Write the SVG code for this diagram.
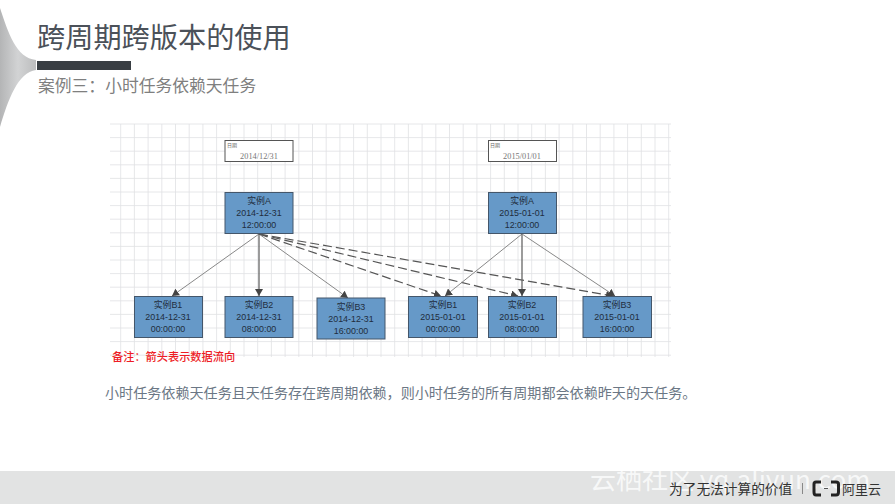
<svg xmlns="http://www.w3.org/2000/svg" width="895" height="504" viewBox="0 0 895 504">
<style>
text{font-family:"Liberation Sans","Noto Sans CJK SC",sans-serif}
.cjk{font-family:"Noto Sans CJK SC","Liberation Sans",sans-serif}
.n{fill:#6699c8;stroke:#44566a;stroke-width:1}
.d{fill:#fff;stroke:#555;stroke-width:1}
.t{font-size:8.900px;fill:#1f2d3d;text-anchor:middle}
.dt{font-family:"Liberation Serif","Noto Sans CJK SC",serif;font-size:8.300px;fill:#777;text-anchor:middle}
.dl{font-size:5px;fill:#666}
.s{stroke:#888;stroke-width:1;fill:none;marker-end:url(#a)}
.v{stroke:#666;stroke-width:1.3;fill:none;marker-end:url(#a)}
.k{stroke:#555;stroke-width:1.2;stroke-dasharray:9 4;fill:none;marker-end:url(#a)}
</style>
<defs>
<marker id="a" markerUnits="userSpaceOnUse" markerWidth="8" markerHeight="8" refX="7" refY="4" orient="auto"><path d="M0 0L7 4L0 8Z" fill="#444"/></marker>
<linearGradient id="g" x1="0" x2="1" y1="0" y2="0"><stop offset="0" stop-color="#b4b5b6"/><stop offset="0.5" stop-color="#d2d3d4"/><stop offset="1" stop-color="#bcbdbe"/></linearGradient>
</defs>
<rect width="895" height="504" fill="#fff"/>
<g id="decor">
<path d="M0 8C8 32 16 58 36 60V70C18 72 8 100 0 127Z" fill="url(#g)"/>
</g>
<g id="header">
<text class="cjk" x="37" y="48" font-size="28.200" fill="#4b5159">跨周期跨版本的使用</text>
<rect x="37" y="61" width="94" height="9" fill="#393e43"/>
<text class="cjk" x="38" y="92" font-size="16.800" fill="#7f7f7f">案例三：小时任务依赖天任务</text>
</g>
<g id="grid">
<path d="M120.700 124V357M134.400 124V357M148.100 124V357M161.800 124V357M175.500 124V357M189.200 124V357M202.900 124V357M216.600 124V357M230.300 124V357M244 124V357M257.700 124V357M271.400 124V357M285.100 124V357M298.800 124V357M312.500 124V357M326.200 124V357M339.900 124V357M353.600 124V357M367.300 124V357M381 124V357M394.700 124V357M408.400 124V357M422.100 124V357M435.800 124V357M449.500 124V357M463.200 124V357M476.900 124V357M490.600 124V357M504.300 124V357M518 124V357M531.700 124V357M545.400 124V357M559.100 124V357M572.800 124V357M586.500 124V357M600.200 124V357M613.900 124V357M627.600 124V357M641.300 124V357M655 124V357M668.700 124V357M110 124H671M110 137.600H671M110 151.200H671M110 164.800H671M110 178.400H671M110 192H671M110 205.600H671M110 219.200H671M110 232.800H671M110 246.400H671M110 260H671M110 273.600H671M110 287.200H671M110 300.800H671M110 314.400H671M110 328H671M110 341.600H671M110 355.200H671" stroke="#dfe1e3" stroke-width="0.8" fill="none"/>
</g>
<g id="connectors">
<path class="s" d="M259 234L172 296"/>
<path class="v" d="M259 234V296"/>
<path class="s" d="M259 234L348 298"/>
<path class="k" d="M259 234L441 296"/>
<path class="k" d="M259 234L518 296"/>
<path class="k" d="M259 234L613 296"/>
<path class="s" d="M522 234L445 296"/>
<path class="v" d="M522 234V296"/>
<path class="s" d="M522 234L615 296"/>
</g>
<g id="date1"><rect class="d" x="225" y="140.500" width="68" height="21"/><text class="dl" x="227" y="147">日期</text><text class="dt" x="259" y="159">2014/12/31</text></g>
<g id="date2"><rect class="d" x="488.500" y="140.500" width="68" height="21"/><text class="dl" x="490" y="147">日期</text><text class="dt" x="522" y="159">2015/01/01</text></g>
<g id="a1"><rect class="n" x="225" y="192.500" width="68" height="41"/><text class="t" x="259" y="204">实例A</text><text class="t" x="259" y="216">2014-12-31</text><text class="t" x="259" y="228">12:00:00</text></g>
<g id="a2"><rect class="n" x="488.500" y="192.500" width="68" height="41"/><text class="t" x="522" y="204">实例A</text><text class="t" x="522" y="216">2015-01-01</text><text class="t" x="522" y="228">12:00:00</text></g>
<g id="b11"><rect class="n" x="134.500" y="296.500" width="68" height="41"/><text class="t" x="168" y="308">实例B1</text><text class="t" x="168" y="320">2014-12-31</text><text class="t" x="168" y="332">00:00:00</text></g>
<g id="b12"><rect class="n" x="225" y="296.500" width="68" height="41"/><text class="t" x="259" y="308">实例B2</text><text class="t" x="259" y="320">2014-12-31</text><text class="t" x="259" y="332">08:00:00</text></g>
<g id="b13"><rect class="n" x="317" y="298" width="68" height="41"/><text class="t" x="351" y="310">实例B3</text><text class="t" x="351" y="322">2014-12-31</text><text class="t" x="351" y="334">16:00:00</text></g>
<g id="b21"><rect class="n" x="408.500" y="296.500" width="69" height="41"/><text class="t" x="443" y="308">实例B1</text><text class="t" x="443" y="320">2015-01-01</text><text class="t" x="443" y="332">00:00:00</text></g>
<g id="b22"><rect class="n" x="488.500" y="296.500" width="68" height="41"/><text class="t" x="522" y="308">实例B2</text><text class="t" x="522" y="320">2015-01-01</text><text class="t" x="522" y="332">08:00:00</text></g>
<g id="b23"><rect class="n" x="583" y="296.500" width="68.500" height="41"/><text class="t" x="617" y="308">实例B3</text><text class="t" x="617" y="320">2015-01-01</text><text class="t" x="617" y="332">16:00:00</text></g>
<g id="note"><text class="cjk" x="112" y="361" font-size="11.200" font-weight="500" fill="#ee1c25">备注：箭头表示数据流向</text></g>
<g id="caption"><text class="cjk" x="105" y="398" font-size="14.080" fill="#6b7785">小时任务依赖天任务且天任务存在跨周期依赖，则小时任务的所有周期都会依赖昨天的天任务。</text></g>
<g id="footer">
<rect y="471" width="895" height="33" fill="#e2e3e3"/>
<text class="cjk" x="590" y="489" font-size="26" fill="#fff" fill-opacity="0.75">云栖社区 yq.aliyun.com</text>
<text class="cjk" x="669" y="494" font-size="13.700" fill="#333">为了无法计算的价值</text>
<path d="M802.500 483V494" stroke="#888" stroke-width="1"/>
<path d="M821 482H816Q814 482 814 484V492Q814 495 816 495H821M831 482H836Q838.500 482 838.500 484V492Q838.500 495 836 495H831" stroke="#222" stroke-width="3" fill="none"/>
<path d="M824 488.500H828" stroke="#555" stroke-width="1"/>
<text class="cjk" x="842" y="494" font-size="13" fill="#333">阿里云</text>
</g>
</svg>
